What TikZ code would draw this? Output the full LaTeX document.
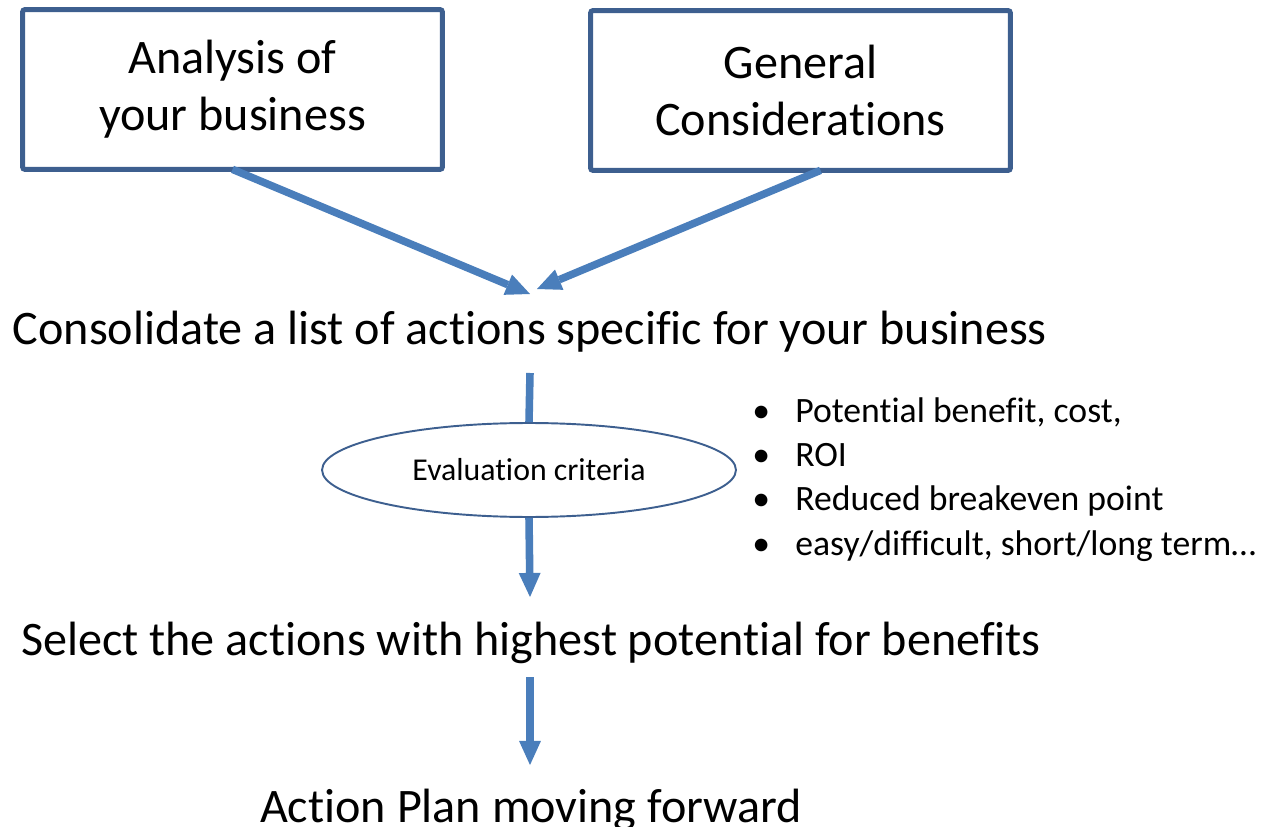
\documentclass[tikz,border=0pt]{standalone}
\usepackage{fontspec}
\setmainfont{Carlito}[Ligatures=NoCommon]
\usetikzlibrary{arrows.meta,shapes.geometric,positioning}
\definecolor{boxblue}{HTML}{3D5F8F}
\definecolor{arrowblue}{HTML}{4A7EBB}

\begin{document}
\begin{tikzpicture}[x=0.02cm,y=0.02cm,
  box/.style={draw=boxblue,line width=2.85pt,rounded corners=1.5pt,minimum width=8.4cm,minimum height=3.2cm,align=center,font=\fontsize{27.4}{32.6}\selectfont},
  txt/.style={inner sep=0pt,anchor=base,font=\fontsize{27.4}{32.6}\selectfont},
  oval/.style={ellipse,draw=boxblue,line width=1.1pt,inner sep=0pt,minimum width=8.28cm,minimum height=1.88cm,font=\fontsize{18.1}{21}\selectfont},
  list/.style={inner sep=0pt,anchor=base west,font=\fontsize{20.3}{25.3}\selectfont},
  flow/.style={color=arrowblue,line width=4.3pt,-{Triangle[length=13.7pt,width=12.5pt,line width=0pt]}}]
\useasboundingbox (0,0) rectangle (1281,-827);
\node[box] (A) at (232.5,-89.5) {Analysis of\\your business};
\node[box] (G) at (800.5,-90.5) {General\\Considerations};
\node[txt] (C) at (530,-345) {Consolidate a list of actions specific for your business};
\node[oval] (E) at (529,-470) {Evaluation criteria};
\node[txt] (S) at (531,-655) {Select the actions with highest potential for benefits};
\node[txt] (P) at (531,-822) {Action Plan moving forward};
\node[list] (L) at (752,-422) {\begin{tabular}[t]{@{}p{0.86cm}@{}l@{}}
\textbullet & Potential benefit, cost,\\
\textbullet & ROI\\
\textbullet & Reduced breakeven point\\
\textbullet & easy/difficult, short/long term…
\end{tabular}};
\coordinate (a1) at (530,-294);
\coordinate (g1) at (537,-289);
\coordinate (c1) at (530,-373);
\coordinate (s1) at (530,-597);
\coordinate (s2) at (530,-677);
\coordinate (p1) at (530,-765);
\path[flow]
([yshift=1.5pt]A.south) edge (a1)
([xshift=0.4cm,yshift=1.5pt]G.south) edge (g1)
(E.south) edge (s1)
(s2) edge (p1);
\draw[arrowblue,line width=4.3pt] (c1) -- (E.north);
\end{tikzpicture}
\end{document}
